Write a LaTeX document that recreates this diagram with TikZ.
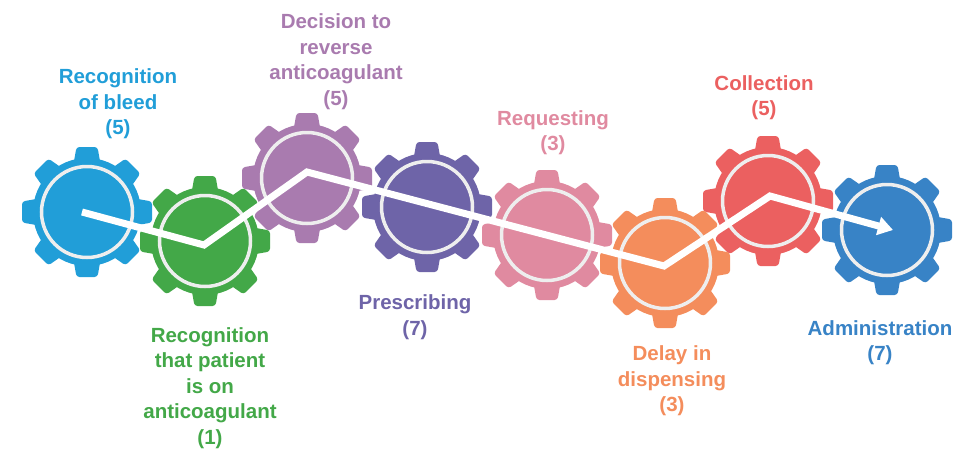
\documentclass[tikz,border=0pt]{standalone}
\usepackage{xcolor}
\usepackage{fontspec}
\setmainfont{Liberation Sans}
\usepackage{tikz}
\usetikzlibrary{arrows.meta}
\definecolor{bleuSaignement}{RGB}{33,158,216}
\definecolor{vertPatient}{RGB}{67,168,72}
\definecolor{violetDecision}{RGB}{169,123,175}
\definecolor{violetPrescription}{RGB}{110,100,168}
\definecolor{roseDemande}{RGB}{224,138,160}
\definecolor{orangeDelai}{RGB}{244,141,92}
\definecolor{rougeCollecte}{RGB}{235,96,96}
\definecolor{bleuAdmin}{RGB}{56,131,198}
\definecolor{anneau}{RGB}{238,238,238}

\tikzset{
  pics/rouage/.style={code={
    \fill[#1] (0,0) circle (54);
    \foreach \a in {0,45,...,315}
      \fill[#1, rotate=\a, rounded corners=3pt] (-13.5,48) -- (-10.5,65) -- (10.5,65) -- (13.5,48) -- cycle;
    \draw[anneau, line width=3.5pt] (0,0) circle (45.5);
  }},
  etiquette/.style={font=\bfseries\fontsize{20.5}{25.5}\selectfont, align=center, inner sep=0pt},
  trajet/.style={white, line width=7pt, -{Triangle[width=18pt,length=15pt]}}
}

\begin{document}
\begin{tikzpicture}[x=1pt,y=-1pt]
\useasboundingbox (0,0) rectangle (972,466);

% rouages du fond, puis ceux de devant
\pic at (87,212) {rouage=bleuSaignement};
\pic at (307,178) {rouage=violetDecision};
\pic at (547,235) {rouage=roseDemande};
\pic at (768,201) {rouage=rougeCollecte};
\pic at (205,241) {rouage=vertPatient};
\pic at (427,207) {rouage=violetPrescription};
\pic at (665,263) {rouage=orangeDelai};
\pic at (887,230) {rouage=bleuAdmin};

\coordinate (depart) at (82,212);
\coordinate (creux1) at (204,245);
\coordinate (sommet1) at (307,172);
\coordinate (creux2) at (664,266);
\coordinate (sommet2) at (770,196);
\coordinate (arrivee) at (893,230);
\draw[trajet] (depart) -- (creux1) -- (sommet1) -- (creux2) -- (sommet2) -- (arrivee);

\node[etiquette, text=bleuSaignement] (saignement) at (118,104) {Recognition\\of bleed\\(5)};
\node[etiquette, text=vertPatient] (patient) at (210,388) {Recognition\\that patient\\is on\\anticoagulant\\(1)};
\node[etiquette, text=violetDecision] (decision) at (336,61.5) {Decision to\\reverse\\anticoagulant\\(5)};
\node[etiquette, text=violetPrescription] (prescription) at (415,317) {Prescribing\\(7)};
\node[etiquette, text=roseDemande] (demande) at (553,132.5) {Requesting\\(3)};
\node[etiquette, text=orangeDelai] (delai) at (672,381) {Delay in\\dispensing\\(3)};
\node[etiquette, text=rougeCollecte] (collecte) at (764,97.5) {Collection\\(5)};
\node[etiquette, text=bleuAdmin] (admin) at (880,342.5) {Administration\\(7)};

\end{tikzpicture}
\end{document}
